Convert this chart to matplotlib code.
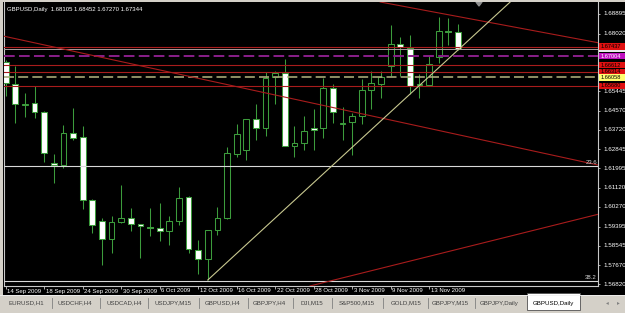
import numpy as np
import matplotlib.pyplot as plt
from matplotlib import transforms
from matplotlib.patches import Rectangle, Polygon
from matplotlib.lines import Line2D

plt.rcParams['font.family'] = ['Liberation Sans', 'DejaVu Sans']

# GBPUSD daily bars, 14 Sep 2009 .. 18 Nov 2009
opens = [1.66763, 1.65766, 1.64841, 1.64903, 1.64501, 1.62221, 1.62145, 1.63562,
         1.63397, 1.60594, 1.59642, 1.58824, 1.59584, 1.59776, 1.59508, 1.59387,
         1.59316, 1.59182, 1.59642, 1.60702, 1.58346, 1.57943, 1.59226, 1.59763,
         1.62650, 1.62802, 1.64188, 1.63799, 1.66092, 1.66244, 1.62995, 1.63142,
         1.63799, 1.63786, 1.65574, 1.63978, 1.64067, 1.64336, 1.65484, 1.65766,
         1.66584, 1.67554, 1.67389, 1.65708, 1.65735, 1.66986, 1.68149, 1.68105]
highs = [1.66839, 1.66571, 1.65350, 1.65677, 1.64560, 1.62637, 1.63933, 1.64680,
         1.63889, 1.60620, 1.59763, 1.59879, 1.61251, 1.60210, 1.59530, 1.60210,
         1.60460, 1.59866, 1.61175, 1.60750, 1.58793, 1.59240, 1.60255, 1.62963,
         1.63965, 1.64200, 1.64859, 1.66316, 1.66347, 1.66883, 1.63902, 1.64349,
         1.64648, 1.66021, 1.65766, 1.64725, 1.64456, 1.65976, 1.66347, 1.66347,
         1.68403, 1.67853, 1.67956, 1.66213, 1.67018, 1.68747, 1.68703, 1.68452]
lows = [1.65230, 1.64023, 1.64304, 1.64233, 1.62293, 1.61327, 1.61998, 1.63263,
        1.60178, 1.59119, 1.57675, 1.58225, 1.59539, 1.59209, 1.58002, 1.58972,
        1.58748, 1.58569, 1.59463, 1.58225, 1.57260, 1.57005, 1.59003, 1.59718,
        1.62516, 1.62369, 1.63263, 1.63442, 1.64859, 1.62990, 1.62490, 1.62816,
        1.62816, 1.63366, 1.64036, 1.63263, 1.62592, 1.63991, 1.64635, 1.65154,
        1.66137, 1.66137, 1.65319, 1.65127, 1.65708, 1.66691, 1.67509, 1.67270]
closes = [1.65824, 1.64859, 1.64872, 1.64514, 1.62668, 1.62132, 1.63562, 1.63366,
          1.60567, 1.59463, 1.58824, 1.59597, 1.59776, 1.59521, 1.59432, 1.59316,
          1.59195, 1.59656, 1.60657, 1.58404, 1.57957, 1.59226, 1.59776, 1.62668,
          1.63518, 1.64188, 1.63799, 1.66021, 1.66244, 1.63008, 1.63115, 1.63679,
          1.63710, 1.65574, 1.64514, 1.64036, 1.64336, 1.65498, 1.65797, 1.66092,
          1.67541, 1.67433, 1.65690, 1.65766, 1.66647, 1.68149, 1.68077, 1.67344]

date_ticks = [0, 4, 8, 12, 16, 20, 24, 28, 32, 36, 40, 44]
date_labels = ['14 Sep 2009', '18 Sep 2009', '24 Sep 2009', '30 Sep 2009', '6 Oct 2009',
               '12 Oct 2009', '16 Oct 2009', '22 Oct 2009', '28 Oct 2009', '3 Nov 2009',
               '9 Nov 2009', '13 Nov 2009']

price_ticks = [1.68895, 1.68020, 1.67145, 1.66270, 1.65445, 1.64570, 1.63720, 1.62845,
               1.61995, 1.61120, 1.60270, 1.59395, 1.58545, 1.57670, 1.56820]

level_prices = [1.67437, 1.67004, 1.66612, 1.66314, 1.66058, 1.65680]
level_kinds = ['red', 'purple', 'red', 'red', 'yellow', 'red']

fib_names = ['23.6', '38.2']
fib_prices = [1.62101, 1.56960]

# trend lines as (bar index, price) anchor pairs
channel_lower = [(-0.28, 1.67912), (61.55, 1.62145)]
channel_upper = [(40.97, 1.69266), (61.55, 1.67612)]
support_red = [(31.62, 1.56737), (61.55, 1.59942)]
support_yellow = [(21, 1.57005), (52.2, 1.69342)]

tabs = ['EURUSD,H1', 'USDCHF,H4', 'USDCAD,H4', 'USDJPY,M15', 'GBPUSD,H4', 'GBPJPY,H4',
        'DJI,M15', 'S&P500,M15', 'GOLD,M15', 'GBPJPY,M15', 'GBPJPY,Daily', 'GBPUSD,Daily']
tab_x = [26.5, 74.5, 124, 173, 222.5, 269.5, 312, 356.5, 406.5, 450.5, 499, 553]
tab_sep = [52, 100, 148, 199, 248, 293, 332, 383, 428, 475]

W, H = 625, 313
GREEN = '#3c9c3c'
RED = '#a81c1c'
GRAY = '#d4d0c8'
AX = '#c8c8c8'

fig = plt.figure(figsize=(W / 100, H / 100), dpi=100, facecolor='black')
ax = fig.add_axes([4 / W, 1 - 286 / H, 594 / W, 284 / H], facecolor='black')
ax.set_xlim(-0.177, 61.55)
ax.set_ylim(1.56737, 1.69431)
ppp = (ax.get_ylim()[1] - ax.get_ylim()[0]) / 284

o = np.array(opens); h = np.array(highs); l = np.array(lows); c = np.array(closes)
idx = np.arange(len(o))
faces = np.where(c >= o, 'black', 'white')
ax.vlines(idx, l, h, colors=GREEN, lw=0.75, zorder=3)
ax.bar(idx, np.abs(c - o), bottom=np.minimum(o, c), width=0.6, color=faces,
       edgecolor=GREEN, linewidth=0.75, zorder=4)

# horizontal levels
styles = {'red': dict(color=RED, lw=0.8, ls='-'),
          'purple': dict(color='#8a1f8a', lw=1.4, ls=(0, (5.5, 2.2))),
          'yellow': dict(color='#a8a878', lw=1.2, ls=(0, (6, 2.5)))}
for p, k in zip(level_prices, level_kinds):
    ax.axhline(p, zorder=5, **styles[k])
ax.axhline(closes[-1], color='#a89c9c', lw=0.7, zorder=5)

for name, p in zip(fib_names, fib_prices):
    ax.axhline(p, color='#d8d8d8', lw=0.8, zorder=5)
    tr = transforms.offset_copy(transforms.blended_transform_factory(ax.transAxes, ax.transData),
                                fig, x=-1, y=1, units='dots')
    ax.text(1, p, name, transform=tr, ha='right', va='bottom', fontsize=4.3,
            color='#d8d8d8', zorder=6)

for line in (channel_lower, channel_upper, support_red):
    ax.axline(line[0], line[1], color=RED, lw=0.8, zorder=5)
(x0, y0), (x1, y1) = support_yellow
slope = (y1 - y0) / (x1 - x0)
xe = ax.get_xlim()[1]
ax.plot([x0, xe], [y0, y0 + slope * (xe - x0)], color='#c8c890', lw=0.8, zorder=5)

# axes frame
ax.spines['top'].set_visible(False)
for s in ('left', 'bottom', 'right'):
    ax.spines[s].set_color(AX)
    ax.spines[s].set_linewidth(0.8)
ax.yaxis.tick_right()
ax.set_xticks(date_ticks)
ax.set_yticks(price_ticks)
ax.tick_params(axis='x', length=2.3, width=0.6, color=AX, labelbottom=False)
ax.tick_params(axis='y', length=1.5, width=0.6, color=AX, labelright=False)

tx = transforms.offset_copy(transforms.blended_transform_factory(ax.transData, ax.transAxes),
                            fig, x=1.5, y=-5, units='dots')
for t, lab in zip(date_ticks, date_labels):
    ax.text(t, 0, lab, transform=tx, ha='left', va='center', fontsize=4.3,
            color='white', clip_on=False)

# regular price scale (labels hidden under object labels are skipped)
covered = level_prices + [closes[-1]]
ty = transforms.offset_copy(transforms.blended_transform_factory(ax.transAxes, ax.transData),
                            fig, x=5, y=0, units='dots')
for p in price_ticks:
    if min(abs(p - q) for q in covered) < 4.5 * ppp:
        continue
    ax.text(1, p, f'{p:.5f}', transform=ty, ha='left', va='center', fontsize=4.5,
            color='white', clip_on=False)

# price labels of the horizontal objects
box_tr = transforms.blended_transform_factory(fig.transFigure, ax.transData)
box_col = {'red': ('#e01010', 'black'), 'purple': ('#c010c0', 'white'),
           'yellow': ('#ffff70', 'black')}
ax.add_patch(Rectangle((599 / W, closes[-1] - 3.5 * ppp), 26 / W, 7 * ppp, transform=box_tr,
                       facecolor='#e8e8e8', edgecolor='none', clip_on=False, zorder=8))
for p, k in zip(level_prices, level_kinds):
    bg, fg = box_col[k]
    ax.add_patch(Rectangle((599 / W, p - 3.2 * ppp), 26 / W, 6.4 * ppp, transform=box_tr,
                           facecolor=bg, edgecolor='none', clip_on=False, zorder=8))
    ax.text(601 / W, p, f'{p:.5f}', transform=box_tr, ha='left', va='center',
            fontsize=4.1, color=fg, clip_on=False, zorder=9)

# header
fig.text(7 / W, 1 - 9 / H,
         f'GBPUSD,Daily  {opens[-1]:.5f} {highs[-1]:.5f} {lows[-1]:.5f} {closes[-1]:.5f}',
         fontsize=4.3, color='white', va='center')
fig.add_artist(Polygon([(476 / W, 1 - 2 / H), (482 / W, 1 - 2 / H), (479 / W, 1 - 6 / H)],
                       closed=True, color='#909090', transform=fig.transFigure))


def px_rect(x0, y0, x1, y1, **kw):
    fig.add_artist(Rectangle((x0 / W, 1 - y1 / H), (x1 - x0) / W, (y1 - y0) / H,
                             transform=fig.transFigure, **kw))


# window chrome and tab bar
px_rect(0, 0, W, 2, color=GRAY, lw=0)
px_rect(0, 0, 3, 295, color=GRAY, lw=0)
px_rect(0, 295, W, H, color=GRAY, lw=0)
fig.add_artist(Line2D([0, 1], [1 - 295 / H] * 2, color='#f0f0f0', lw=0.6))
px_rect(527, 293, 580, 310, facecolor='white', edgecolor='#505050', lw=0.6)
for sx in tab_sep:
    fig.add_artist(Line2D([sx / W] * 2, [1 - 298 / H, 1 - 308 / H], color='#808080', lw=0.6))
for name, cx in zip(tabs, tab_x):
    fig.text(cx / W, 1 - 303 / H, name, ha='center', va='center', fontsize=4.4,
             color='black' if name == tabs[-1] else '#404040')
fig.text(607 / W, 1 - 303 / H, '◂', ha='center', va='center', fontsize=4, color='#808080',
         family='DejaVu Sans')
fig.text(618 / W, 1 - 303 / H, '▸', ha='center', va='center', fontsize=4, color='#808080',
         family='DejaVu Sans')

fig.savefig('out.png', dpi=100, facecolor='black')
